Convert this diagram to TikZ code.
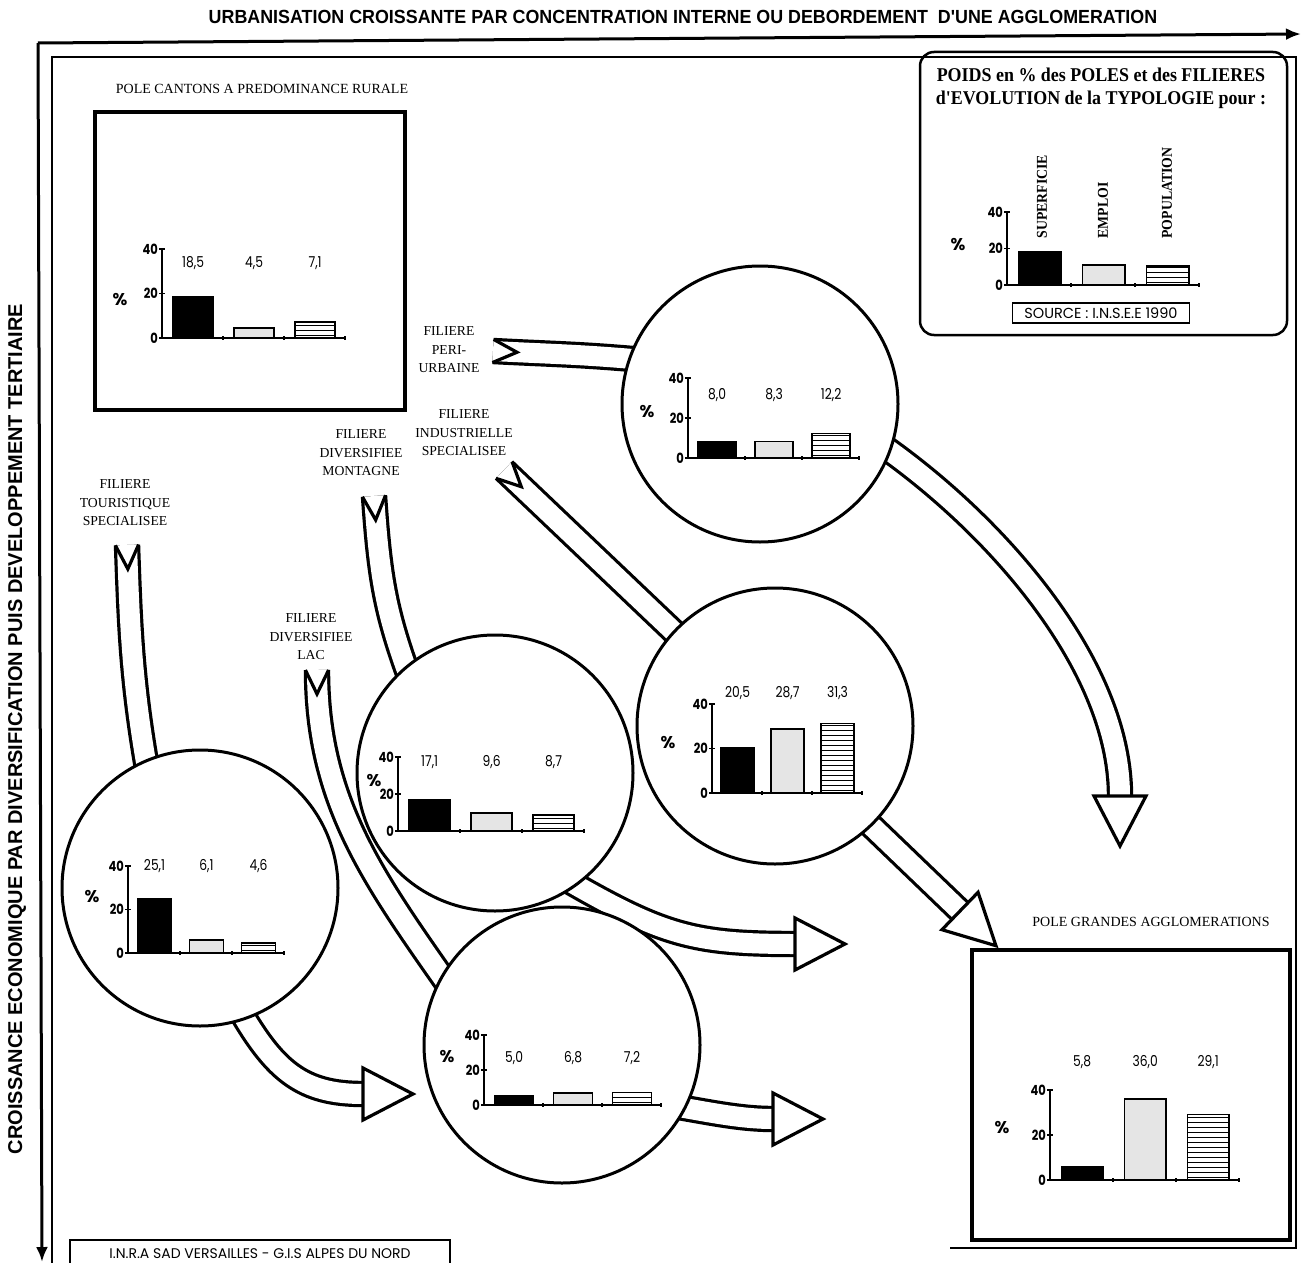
\documentclass[tikz,border=0pt]{standalone}
\usepackage{fontspec}
\setmainfont{Liberation Serif}
\newfontfamily\legendfont[FakeStretch=0.92]{Liberation Serif}
\newfontfamily\axisfont{Liberation Sans}
\newfontfamily\axisnarrowfont[FakeStretch=0.94]{Liberation Sans}
\newfontfamily\chartfont{Poppins}
\newfontfamily\numfont[FakeStretch=0.82]{Poppins}
\usetikzlibrary{calc}
\usetikzlibrary{arrows.meta}
\pgfdeclarelayer{back}
\pgfsetlayers{back,main}
\pgfkeys{/pgf/number format/.cd, fixed, fixed zerofill, precision=1,
  use comma, assume math mode=true}
\tikzset{pole/.style = {circle, draw, line width=3pt, fill=white,
                        minimum size=276pt, inner sep=0pt},
         polebox/.style = {draw, line width=3.2pt},
         band/.style = {line width=3.2pt, double=white, double distance=20pt},
         bandend/.style = {line width=3.2pt, line join=miter},
         filiere/.style = {align=center, font=\fontsize{13.7}{18.5}\selectfont},
         poletitle/.style = {font=\fontsize{14}{16}\selectfont},
         chartaxis/.style = {line width=1.4pt},
         barline/.style = {line width=1.6pt},
         ticklab/.style = {font=\numfont\bfseries\fontsize{14}{14}\selectfont,
                           anchor=east, inner sep=1pt},
         barvalue/.style = {font=\numfont\fontsize{15}{15}\selectfont},
         axistitle/.style = {font=\axisfont\bfseries\fontsize{20}{20}\selectfont},
         legendlab/.style = {rotate=90, anchor=west,
                             font=\legendfont\bfseries\fontsize{15}{15}\selectfont},
         boxtext/.style = {draw, fill=white, line width=1.2pt, inner sep=0pt}}
\definecolor{stipple}{gray}{0.9}

% head and tail of a band arrow: coordinate, direction
\newcommand{\bandhead}[2]{%
  \draw[bandend, fill=white] ($(#1)+({#2+90}:26)$) -- ($(#1)+(#2:50)$)
    -- ($(#1)+({#2-90}:26)$) -- cycle;}
\newcommand{\bandtail}[2]{%
  \draw[bandend] ($(#1)+({#2+90}:11.6)$) -- ($(#1)+(#2:24)$)
    -- ($(#1)+({#2-90}:11.6)$);}

% origin x, origin y, bar pitch, height of 40, three values, label offset, place of %
\newcommand{\barchart}[9]{%
  \begin{scope}[shift={(#1,#2)}]
    \draw[chartaxis] (0,0) -- (0,-#4);
    \draw[chartaxis] (0,0) -- ({3*#3},0);
    \foreach \t in {0,20,40} {
      \draw[chartaxis] (-3,{-\t*#4/40}) -- (3,{-\t*#4/40});
      \node[ticklab] at (-3,{-\t*#4/40}) {\t};
    }
    \foreach \k in {1,2,3}
      \draw[chartaxis] ({\k*#3},-2) -- ({\k*#3},2);
    \node[font=\chartfont\bfseries\fontsize{17}{17}\selectfont] at (#9) {\%};
    \draw[barline, fill=black] ({0.18*#3},0) rectangle ++({0.66*#3},{-#5*#4/40});
    \draw[barline, fill=stipple] ({1.18*#3},0) rectangle ++({0.66*#3},{-#6*#4/40});
    \begin{scope}
      \clip ({2.18*#3},0) rectangle ++({0.66*#3},{-#7*#4/40});
      \foreach \s in {2.5,7.5,...,97.5}
        \draw[line width=1.3pt] ({2*#3},-\s) -- ({3*#3},-\s);
    \end{scope}
    \draw[barline] ({2.18*#3},0) rectangle ++({0.66*#3},{-#7*#4/40});
    \if\relax\detokenize{#8}\relax\else
      \node[barvalue] at ({0.51*#3},#8) {\pgfmathprintnumber{#5}};
      \node[barvalue] at ({1.51*#3},#8) {\pgfmathprintnumber{#6}};
      \node[barvalue] at ({2.51*#3},#8) {\pgfmathprintnumber{#7}};
    \fi
  \end{scope}}

\begin{document}
\begin{tikzpicture}[x=1pt, y=-1pt]
  \useasboundingbox (0,0) rectangle (1302,1263);

  % axes of the typology
  \coordinate (corner) at (38,43);
  \coordinate (xend) at (1301,34);
  \coordinate (yend) at (42,1262);
  \draw[line width=3pt, -{Latex[length=15pt, width=12pt]}] (corner) -- (xend);
  \draw[line width=3pt, -{Latex[length=15pt, width=12pt]}] (corner) -- (yend);
  \node[font=\axisnarrowfont\bfseries\fontsize{19}{19}\selectfont] (urbtitle) at (683,17)
    {URBANISATION CROISSANTE PAR CONCENTRATION INTERNE OU DEBORDEMENT\ \ D'UNE AGGLOMERATION};
  \node[axistitle, rotate=90] (croistitle) at (17,729)
    {CROISSANCE ECONOMIQUE PAR DIVERSIFICATION PUIS DEVELOPPEMENT TERTIAIRE};
  \draw[line width=1.4pt] (52,1263) -- (52,57) -- (1296,57) -- (1296,1248) -- (950,1248);

  % poles
  \node[polebox, minimum width=310pt, minimum height=298pt] (rural) at (250,261) {};
  \node[poletitle] (ruraltitle) at (262,89) {POLE CANTONS A PREDOMINANCE RURALE};
  \node[polebox, minimum width=318pt, minimum height=290pt] (agglo) at (1131,1095) {};
  \node[poletitle] (agglotitle) at (1151,922) {POLE GRANDES AGGLOMERATIONS};
  \node[pole] (peri) at (760,404) {};
  \node[pole] (ind) at (775,726) {};
  \node[pole] (mont) at (495,773) {};
  \node[pole] (tour) at (200,888) {};
  \node[pole] (lac) at (562,1045) {};

  % filieres
  \node[filiere] (lperi) at (449,350) {FILIERE\\PERI-\\URBAINE};
  \node[filiere] (lind) at (464,433) {FILIERE\\INDUSTRIELLE\\SPECIALISEE};
  \node[filiere] (lmont) at (361,453) {FILIERE\\DIVERSIFIEE\\MONTAGNE};
  \node[filiere] (ltour) at (125,503) {FILIERE\\TOURISTIQUE\\SPECIALISEE};
  \node[filiere] (llac) at (311,637) {FILIERE\\DIVERSIFIEE\\LAC};

  \coordinate (tperi) at (493,351);
  \coordinate (tind) at (504,470);
  \coordinate (tmont) at (374,496);
  \coordinate (ttour) at (127,545);
  \coordinate (tlac) at (317,670);
  \coordinate (hperi) at (1120,796);
  \coordinate (hind) at (960,911);
  \coordinate (hmont) at (795,944);
  \coordinate (htour) at (363,1094);
  \coordinate (hlac) at (773,1119);

  \begin{pgfonlayer}{back}
    \draw[band, shorten >=-12pt] (tperi) .. controls +(3:60) and +(185:50) .. (peri.161);
    \draw[band, shorten <=-12pt] (peri.-20) .. controls +(35:130) and +(-90:130) .. (hperi);
    \draw[band, shorten >=-12pt] (tind) -- (ind.137);
    \draw[band, shorten <=-12pt] (ind.-46) -- (hind);
    \draw[band, shorten >=-12pt] (tmont) .. controls +(86:80) and +(250:60) .. (mont.130);
    \draw[band, shorten <=-12pt] (mont.-54) .. controls +(30:100) and +(180:100) .. (hmont);
    \draw[band, shorten >=-12pt] (ttour) .. controls +(88:80) and +(260:80) .. (tour.113);
    \draw[band, shorten <=-12pt] (tour.-71) .. controls +(60:60) and +(180:60) .. (htour);
    \draw[band, shorten >=-12pt] (tlac) .. controls +(90:130) and +(235:120) .. (lac.150);
    \draw[band, shorten <=-12pt] (lac.-27) .. controls +(10:30) and +(180:30) .. (hlac);
  \end{pgfonlayer}
  \bandtail{tperi}{3}
  \bandtail{tind}{44}
  \bandtail{tmont}{86}
  \bandtail{ttour}{88}
  \bandtail{tlac}{90}
  \bandhead{hperi}{90}
  \bandhead{hind}{44}
  \bandhead{hmont}{0}
  \bandhead{htour}{0}
  \bandhead{hlac}{0}

  % weights of each pole
  \barchart{162}{338}{61}{89}{18.5}{4.5}{7.1}{-75}{-42,-38}
  \barchart{688}{458}{57}{80}{8.0}{8.3}{12.2}{-63}{-41,-46}
  \barchart{712}{793}{50}{89}{20.5}{28.7}{31.3}{-100}{-44,-50}
  \barchart{398}{831}{62}{74}{17.1}{9.6}{8.7}{-69}{-24,-50}
  \barchart{128}{953}{52}{87}{25.1}{6.1}{4.6}{-87}{-36,-56}
  \barchart{484}{1105}{59}{70}{5.0}{6.8}{7.2}{-47}{-37,-48}
  \barchart{1050}{1180}{63}{90}{5.8}{36.0}{29.1}{-118}{-48,-52}

  % legend
  \draw[line width=2.5pt, rounded corners=14pt] (920,52) rectangle (1287,335);
  \node[font=\legendfont\bfseries\fontsize{19.5}{23}\selectfont, align=center] (legtitle) at (1101,88)
    {POIDS en \% des POLES et des FILIERES\\d'EVOLUTION de la TYPOLOGIE pour :};
  \barchart{1007}{285}{64}{73}{18}{11}{10.5}{}{-49,-40}
  \node[legendlab] (superf) at (1042,242) {SUPERFICIE};
  \node[legendlab] (emploi) at (1103,242) {EMPLOI};
  \node[legendlab] (popul) at (1167,242) {POPULATION};
  \node[boxtext, font=\chartfont\fontsize{14.5}{14.5}\selectfont,
        minimum width=177pt, minimum height=20pt] (source) at (1101,313)
    {SOURCE : I.N.S.E.E 1990};
  \node[boxtext, font=\chartfont\fontsize{14}{14}\selectfont,
        minimum width=380pt, minimum height=28pt] (inra) at (260,1254)
    {I.N.R.A SAD VERSAILLES - G.I.S ALPES DU NORD};
\end{tikzpicture}
\end{document}
